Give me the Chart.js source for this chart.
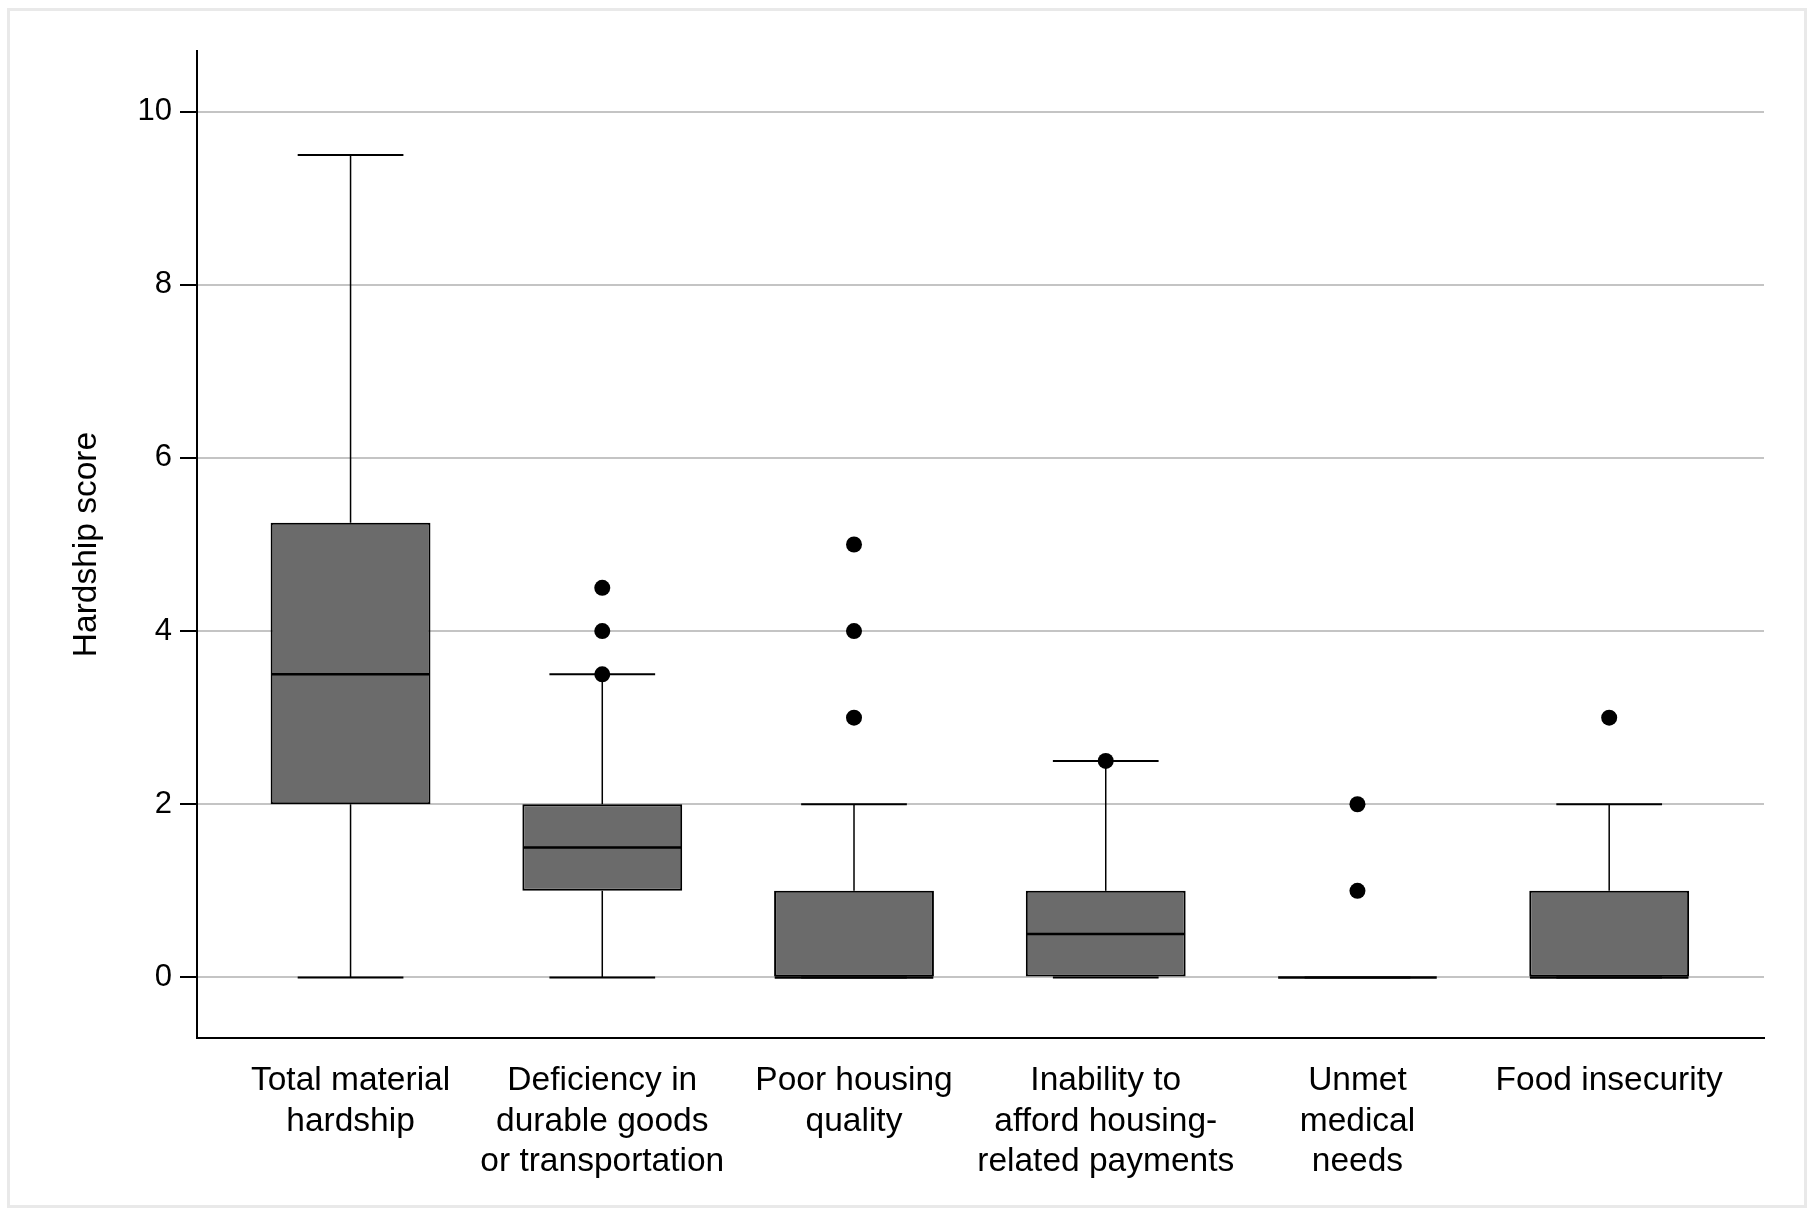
<!DOCTYPE html>
<html>
<head>
<meta charset="utf-8">
<script src="https://cdn.jsdelivr.net/npm/chart.js@4/dist/chart.umd.min.js"></script>
<style>
  html, body { margin: 0; padding: 0; background: #fff; }
  #wrap { width: 1814px; height: 1215px; }
</style>
</head>
<body>
<div id="wrap"><canvas id="grafico" width="1814" height="1215"></canvas></div>
<script>
// categorias (etiquetas en varias lineas como en la figura)
const categorias = [
  ['Total material', 'hardship'],
  ['Deficiency in', 'durable goods', 'or transportation'],
  ['Poor housing', 'quality'],
  ['Inability to', 'afford housing-', 'related payments'],
  ['Unmet', 'medical', 'needs'],
  ['Food insecurity']
];
const minimos  = [0, 0, 0, 0, 0, 0];
const q1       = [2, 1, 0, 0, 0, 0];
const medianas = [3.5, 1.5, 0, 0.5, 0, 0];
const q3       = [5.25, 2, 1, 1, 0, 1];
const maximos  = [9.5, 3.5, 2, 2.5, 0, 2];
const atipicos = [[], [3.5, 4, 4.5], [3, 4, 5], [2.5], [1, 2], [3]];
const ticksY   = [0, 2, 4, 6, 8, 10];

const fuente = "'Liberation Sans', Arial, sans-serif";

const cajas = categorias.map((c, i) => ({ x: i, y: [q1[i], q3[i]] }));
const puntos = [];
atipicos.forEach((lista, i) => lista.forEach(v => puntos.push({ x: i, y: v })));

// marco gris claro alrededor de la figura
const marco = {
  id: 'marco',
  beforeDraw(chart) {
    const ctx = chart.ctx;
    ctx.save();
    ctx.fillStyle = '#fff';
    ctx.fillRect(0, 0, chart.width, chart.height);
    ctx.strokeStyle = '#e9e9e9';
    ctx.lineWidth = 3;
    ctx.strokeRect(8.5, 9.5, 1797, 1197);
    ctx.restore();
  }
};

// bigotes, topes y medianas dibujados con las escalas del grafico
const bigotes = {
  id: 'bigotes',
  beforeDatasetsDraw(chart) {
    const { ctx, scales: { x, y } } = chart;
    const paso = x.getPixelForValue(1) - x.getPixelForValue(0);
    const medio = paso * 0.21;
    ctx.save();
    ctx.strokeStyle = '#000';
    categorias.forEach((c, i) => {
      const cx = x.getPixelForValue(i);
      ctx.lineWidth = 1.5;
      ctx.beginPath();
      ctx.moveTo(cx, y.getPixelForValue(q3[i]));
      ctx.lineTo(cx, y.getPixelForValue(maximos[i]));
      ctx.moveTo(cx, y.getPixelForValue(q1[i]));
      ctx.lineTo(cx, y.getPixelForValue(minimos[i]));
      ctx.stroke();
      ctx.lineWidth = 2;
      ctx.beginPath();
      [minimos[i], maximos[i]].forEach(v => {
        const py = y.getPixelForValue(v);
        ctx.moveTo(cx - medio, py);
        ctx.lineTo(cx + medio, py);
      });
      ctx.stroke();
    });
    ctx.restore();
  },
  afterDatasetsDraw(chart) {
    const { ctx, scales: { x, y } } = chart;
    const paso = x.getPixelForValue(1) - x.getPixelForValue(0);
    const medio = paso * 0.315;
    ctx.save();
    ctx.strokeStyle = '#000';
    ctx.lineWidth = 2.5;
    ctx.beginPath();
    medianas.forEach((m, i) => {
      const cx = x.getPixelForValue(i);
      const py = y.getPixelForValue(m);
      ctx.moveTo(cx - medio, py);
      ctx.lineTo(cx + medio, py);
    });
    ctx.stroke();
    ctx.restore();
  }
};

new Chart(document.getElementById('grafico'), {
  type: 'bar',
  data: {
    datasets: [
      {
        type: 'bar',
        data: cajas,
        backgroundColor: '#6b6b6b',
        borderColor: '#000',
        borderWidth: 2,
        borderSkipped: false,
        barPercentage: 0.635,
        categoryPercentage: 1
      },
      {
        type: 'scatter',
        data: puntos,
        backgroundColor: '#000',
        borderWidth: 0,
        pointRadius: 8
      }
    ]
  },
  options: {
    responsive: false,
    animation: false,
    layout: { padding: { top: 51, right: 50, left: 0, bottom: 0 } },
    plugins: {
      legend: { display: false },
      tooltip: { enabled: false }
    },
    scales: {
      x: {
        type: 'linear',
        offset: false,
        min: -0.61,
        max: 5.615,
        grid: { display: false, drawTicks: false, offset: false },
        border: { color: '#000', width: 2 },
        ticks: {
          stepSize: 1,
          includeBounds: false,
          autoSkip: false,
          maxRotation: 0,
          padding: 22,
          color: '#000',
          font: { family: fuente, size: 33.5, lineHeight: 1.22 },
          callback: v => categorias[v]
        },
        afterFit: s => { s.height = 177; }
      },
      y: {
        min: -0.7,
        max: 10.7,
        grid: { color: '#c4c4c4', lineWidth: 2, tickColor: '#000', tickWidth: 2, tickLength: 17 },
        border: { color: '#000', width: 2 },
        ticks: {
          padding: 8,
          color: '#000',
          font: { family: fuente, size: 31 }
        },
        afterBuildTicks: s => { s.ticks = ticksY.map(v => ({ value: v })); },
        title: {
          display: true,
          text: 'Hardship score',
          color: '#000',
          font: { family: fuente, size: 33.5 },
          padding: { top: 67, bottom: 0 }
        },
        afterFit: s => { s.width = 197; }
      }
    }
  },
  plugins: [marco, bigotes]
});
</script>
</body>
</html>
